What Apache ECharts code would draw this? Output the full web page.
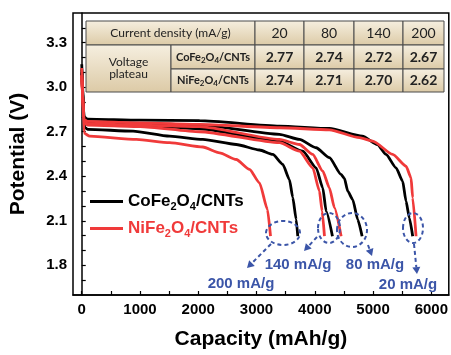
<!DOCTYPE html>
<html>
<head>
<meta charset="UTF-8">
<title>Discharge curves</title>
<script src="https://cdn.jsdelivr.net/npm/echarts@6.0.0/dist/echarts.min.js"></script>
<style>
    body { margin: 0; background: #fff; }
    #root { width: 451px; height: 355px; }
</style>
</head>
<body>
<div id="root"></div>
<script>
    // capacity (mAh/g), potential (V)
    var co20 = [[0, 3.12], [40, 2.80], [100, 2.785], [1000, 2.778], [2023, 2.775], [3394, 2.738], [4251, 2.722], [4817, 2.67], [5074, 2.614], [5223, 2.547], [5395, 2.457], [5508, 2.367], [5566, 2.232], [5623, 2.12], [5680, 1.996]];
    var co80 = [[0, 3.1], [40, 2.78], [100, 2.765], [1000, 2.757], [2023, 2.745], [3394, 2.682], [3737, 2.648], [4023, 2.592], [4251, 2.525], [4452, 2.412], [4509, 2.385], [4565, 2.30], [4651, 2.243], [4737, 2.108], [4812, 1.996]];
    var co140 = [[0, 3.1], [40, 2.77], [100, 2.755], [1000, 2.745], [2023, 2.72], [3394, 2.637], [3794, 2.569], [4023, 2.457], [4137, 2.322], [4195, 2.165], [4303, 1.996]];
    var co200 = [[0, 3.155], [50, 2.73], [100, 2.716], [880, 2.704], [1508, 2.670], [2079, 2.648], [2652, 2.614], [3051, 2.577], [3279, 2.547], [3451, 2.48], [3565, 2.378], [3622, 2.257], [3680, 2.11], [3708, 1.996]];

    var ni20 = [[0, 3.08], [40, 2.78], [100, 2.77], [1000, 2.76], [2023, 2.75], [3394, 2.727], [4251, 2.713], [4766, 2.66], [4994, 2.637], [5337, 2.547], [5566, 2.468], [5652, 2.39], [5680, 2.255], [5738, 1.996]];
    var ni80 = [[0, 3.08], [40, 2.77], [100, 2.755], [1000, 2.745], [2023, 2.735], [3394, 2.648], [3737, 2.614], [3965, 2.547], [4137, 2.434], [4251, 2.322], [4337, 2.188], [4452, 1.996]];
    var ni140 = [[0, 3.08], [40, 2.76], [100, 2.745], [1000, 2.735], [2023, 2.70], [3394, 2.626], [3737, 2.569], [3965, 2.457], [4080, 2.30], [4126, 2.165], [4166, 1.996]];
    var ni200 = [[0, 3.13], [40, 2.69], [137, 2.67], [938, 2.648], [1508, 2.626], [2079, 2.597], [2366, 2.558], [2652, 2.513], [2880, 2.446], [3051, 2.356], [3188, 2.176], [3240, 1.996]];

    var xLabels = [0, 1000, 2000, 3000, 4000, 5000, 6000];
    var xTicks = [0, 500, 1000, 1500, 2000, 2500, 3000, 3500, 4000, 4500, 5000, 5500, 6000];
    var yLabels = [1.8, 2.1, 2.4, 2.7, 3.0, 3.3];
    var yTicks = [1.7, 1.8, 1.9, 2.0, 2.1, 2.2, 2.3, 2.4, 2.5, 2.6, 2.7, 2.8, 2.9, 3.0, 3.1, 3.2, 3.3, 3.4];

    // inset table
    var densities = [20, 80, 140, 200];
    var coPlateau = ['2.77', '2.74', '2.72', '2.67'];
    var niPlateau = ['2.74', '2.71', '2.70', '2.62'];

    // rate annotations
    var rateNames = ['200 mA/g', '140 mA/g', '80 mA/g', '20 mA/g'];

    var CO = 'CoFe2O4/CNTs', NI = 'NiFe2O4/CNTs';
    var black = '#000000', red = '#f03a3a', blue = '#3b55a8';

    function line(name, data, color) {
        return {
            name: name, type: 'line', data: data, symbol: 'none',
            smooth: 0.2, smoothMonotone: 'x',
            lineStyle: { color: color, width: 2.8 },
            itemStyle: { color: color },
            z: color === red ? 3 : 2
        };
    }

    // table drawn with graphic elements
    var cols = [86, 171, 255, 304, 354, 403, 444];
    var rows = [21, 45, 69, 92];
    var tfont = '"Lato", "Open Sans", sans-serif';
    var cellFill = {
        type: 'linear', x: 0, y: 0, x2: 0, y2: 1,
        colorStops: [{ offset: 0, color: '#f6efe0' }, { offset: 1, color: '#dccaa6' }]
    };
    var tableEls = [];
    function cell(c0, c1, r0, r1) {
        tableEls.push({
            type: 'rect', z: 10,
            shape: { x: cols[c0], y: rows[r0], width: cols[c1] - cols[c0], height: rows[r1] - rows[r0] },
            style: { fill: cellFill, stroke: '#4a4a4a', lineWidth: 1 }
        });
    }
    function txt(str, x, y, size, weight, rich) {
        tableEls.push({
            type: 'text', z: 11,
            style: {
                text: str, x: x, y: y, align: 'center', verticalAlign: 'middle',
                textAlign: 'center', textVerticalAlign: 'middle',
                fontFamily: tfont, fontSize: size, fontWeight: weight, fill: '#222', rich: rich
            }
        });
    }
    var subRich = {
        m: { fontSize: 11, fontWeight: 'bold', fontFamily: tfont, fill: '#222', color: '#222' },
        s: { fontSize: 8, fontWeight: 'bold', fontFamily: tfont, fill: '#222', color: '#222', padding: [6, 0, 0, 0] }
    };
    function subName(n, st, ss) {
        return '{' + st + '|' + n.slice(0, 4) + '}{' + ss + '|2}{' + st + '|O}{' + ss + '|4}{' + st + '|' + n.slice(7) + '}';
    }

    cell(0, 2, 0, 1);
    cell(0, 1, 1, 3);
    cell(1, 2, 1, 2);
    cell(1, 2, 2, 3);
    for (var i = 0; i < densities.length; i++) {
        cell(i + 2, i + 3, 0, 1);
        cell(i + 2, i + 3, 1, 2);
        cell(i + 2, i + 3, 2, 3);
        var cx = (cols[i + 2] + cols[i + 3]) / 2;
        txt(String(densities[i]), cx, (rows[0] + rows[1]) / 2, 14, 'normal');
        txt(coPlateau[i], cx, (rows[1] + rows[2]) / 2, 14, 'bold');
        txt(niPlateau[i], cx, (rows[2] + rows[3]) / 2, 14, 'bold');
    }
    txt('Current density (mA/g)', (cols[0] + cols[2]) / 2, (rows[0] + rows[1]) / 2, 12, 'normal');
    txt('Voltage\nplateau', (cols[0] + cols[1]) / 2, (rows[1] + rows[3]) / 2, 12, 'normal');
    txt(subName(CO, 'm', 's'), (cols[1] + cols[2]) / 2, (rows[1] + rows[2]) / 2, 11, 'bold', subRich);
    txt(subName(NI, 'm', 's'), (cols[1] + cols[2]) / 2, (rows[2] + rows[3]) / 2, 11, 'bold', subRich);

    // dashed circles, arrows and rate labels
    var rings = [[283, 233, 17, 12], [329, 228, 11, 15], [352, 230, 15, 17], [413, 228, 10, 15]];
    var arrows = [[271, 244, 247, 268], [317, 237, 304, 251], [368, 245, 372, 256], [414, 244, 417, 274]];
    var labelPos = [[241, 284], [298, 265], [375, 265], [408, 285]];
    var annEls = [];
    var dash = [4, 3];
    for (var k = 0; k < rings.length; k++) {
        var r = rings[k], a = arrows[k];
        annEls.push({
            type: 'ellipse', z: 12,
            shape: { cx: r[0], cy: r[1], rx: r[2], ry: r[3] },
            style: { fill: 'none', stroke: blue, lineWidth: 2, lineDash: dash }
        });
        var ang = Math.atan2(a[3] - a[1], a[2] - a[0]);
        var hl = 7, hw = 4;
        var bx = a[2] - hl * Math.cos(ang), by = a[3] - hl * Math.sin(ang);
        annEls.push({
            type: 'line', z: 12,
            shape: { x1: a[0], y1: a[1], x2: bx, y2: by },
            style: { stroke: blue, lineWidth: 2, lineDash: dash }
        });
        annEls.push({
            type: 'polygon', z: 12,
            shape: {
                points: [[a[2], a[3]],
                    [bx + hw * Math.sin(ang), by - hw * Math.cos(ang)],
                    [bx - hw * Math.sin(ang), by + hw * Math.cos(ang)]]
            },
            style: { fill: blue }
        });
        annEls.push({
            type: 'text', z: 12,
            style: {
                text: rateNames[k], x: labelPos[k][0], y: labelPos[k][1],
                align: 'center', verticalAlign: 'middle', textAlign: 'center', textVerticalAlign: 'middle',
                fontFamily: 'Liberation Sans', fontSize: 15, fontWeight: 'bold', fill: blue
            }
        });
    }

    var chart = echarts.init(document.getElementById('root'), null, { renderer: 'canvas' });

    var axisFont = { fontFamily: 'Liberation Sans', fontSize: 15, fontWeight: 'bold', color: '#000' };

    chart.setOption({
        animation: false,
        backgroundColor: '#fff',
        grid: { left: 73, top: 13, right: 2, bottom: 58, containLabel: false, show: true, borderColor: '#000', borderWidth: 1.5 },
        legend: {
            orient: 'vertical', left: 85, top: 188, itemWidth: 33, itemHeight: 3, itemGap: 8,
            icon: 'rect',
            data: [CO, NI],
            textStyle: {
                fontFamily: 'Liberation Sans', fontSize: 17, fontWeight: 'bold',
                rich: {
                    k: { color: black, fontSize: 17, fontWeight: 'bold', fontFamily: 'Liberation Sans' },
                    ks: { color: black, fontSize: 11, fontWeight: 'bold', fontFamily: 'Liberation Sans', padding: [10, 0, 0, 0] },
                    r: { color: red, fontSize: 17, fontWeight: 'bold', fontFamily: 'Liberation Sans' },
                    rs: { color: red, fontSize: 11, fontWeight: 'bold', fontFamily: 'Liberation Sans', padding: [10, 0, 0, 0] }
                }
            },
            formatter: function (n) {
                return n === CO ? subName(n, 'k', 'ks') : subName(n, 'r', 'rs');
            }
        },
        xAxis: {
            type: 'value', min: -150, max: 6300,
            name: 'Capacity (mAh/g)', nameLocation: 'middle', nameGap: 34,
            nameTextStyle: { fontFamily: 'Liberation Sans', fontSize: 21, fontWeight: 'bold', color: '#000' },
            axisLine: { show: true, lineStyle: { color: '#000', width: 1.5 } },
            axisTick: { show: true, inside: true, length: 4, customValues: xTicks, lineStyle: { color: '#000', width: 1.2 } },
            axisLabel: Object.assign({
                customValues: xLabels, margin: 7,
                formatter: function (v) { return String(v); }
            }, axisFont),
            splitLine: { show: false }
        },
        yAxis: {
            type: 'value', min: 1.6, max: 3.5,
            name: 'Potential (V)', nameLocation: 'middle', nameGap: 44,
            nameTextStyle: { fontFamily: 'Liberation Sans', fontSize: 21, fontWeight: 'bold', color: '#000' },
            axisLine: { show: true, lineStyle: { color: '#000', width: 1.5 } },
            axisTick: { show: true, inside: true, length: 4, customValues: yTicks, lineStyle: { color: '#000', width: 1.2 } },
            axisLabel: Object.assign({
                customValues: yLabels, margin: 6,
                formatter: function (v) { return v.toFixed(1); }
            }, axisFont),
            splitLine: { show: false }
        },
        series: [
            line(CO, co20, black), line(CO, co80, black), line(CO, co140, black), line(CO, co200, black),
            line(NI, ni20, red), line(NI, ni80, red), line(NI, ni140, red), line(NI, ni200, red)
        ],
        graphic: tableEls.concat(annEls)
    });
</script>
</body>
</html>
